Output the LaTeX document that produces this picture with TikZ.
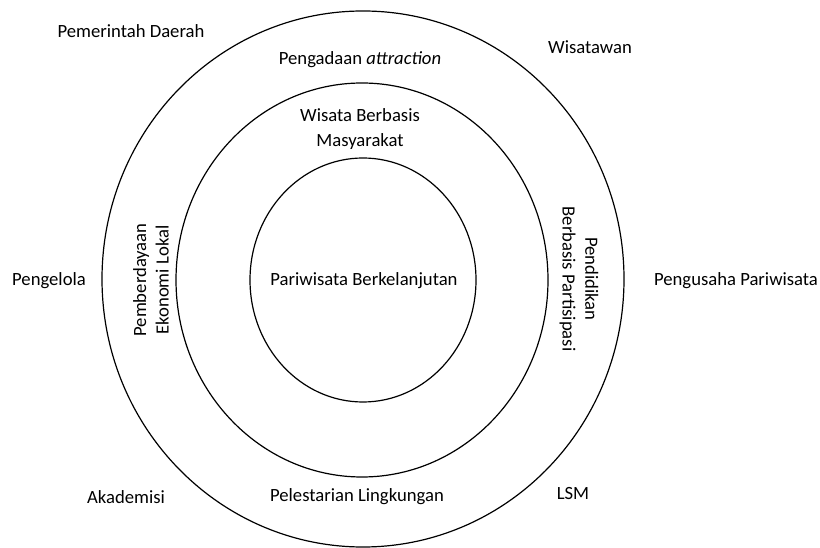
\documentclass[tikz,border=0pt]{standalone}
\usepackage{fontspec}
\setmainfont{Carlito}
\usepackage{tikz}
\tikzset{
  ring/.style   = {draw, line width=0.9pt},
  label/.style  = {font=\fontsize{14}{18}\selectfont, align=center, inner sep=1pt},
  actor/.style  = {label},
  upword/.style = {label, font=\fontsize{14}{17}\selectfont, rotate=90},
  downword/.style = {label, font=\fontsize{14}{17}\selectfont, rotate=-90}
}
\begin{document}
\begin{tikzpicture}[x=0.75pt, y=-0.75pt]
  \useasboundingbox (0,0) rectangle (820,548);
  % rings
  \coordinate (centre) at (363,279);
  \draw[ring] (centre) ellipse [x radius=261, y radius=268];
  \draw[ring] (362,280) ellipse [x radius=186, y radius=197];
  \draw[ring] (363,280) ellipse [x radius=113, y radius=122];
  % middle
  \node[label] (core) at (364,281) {Pariwisata Berkelanjutan};
  % second ring
  \node[label] (cbt) at (360,129) {Wisata Berbasis\\[1pt]Masyarakat};
  \node[upword] (ekonomi) at (151,280) {Pemberdayaan\\Ekonomi Lokal};
  \node[downword] (didik) at (579,279) {Pendidikan\\Berbasis Partisipasi};
  \node[label] (lestari) at (357,497) {Pelestarian Lingkungan};
  \node[label] (attr) at (360,60) {Pengadaan \textit{attraction}};
  % actors
  \node[actor] (pemda) at (131,31) {Pemerintah Daerah};
  \node[actor] (turis) at (590,47) {Wisatawan};
  \node[actor] (kelola) at (49,281) {Pengelola};
  \node[actor] (usaha) at (736,281) {Pengusaha Pariwisata};
  \node[actor] (akad) at (126,497) {Akademisi};
  \node[actor] (lsm) at (573,494) {LSM};
\end{tikzpicture}
\end{document}
